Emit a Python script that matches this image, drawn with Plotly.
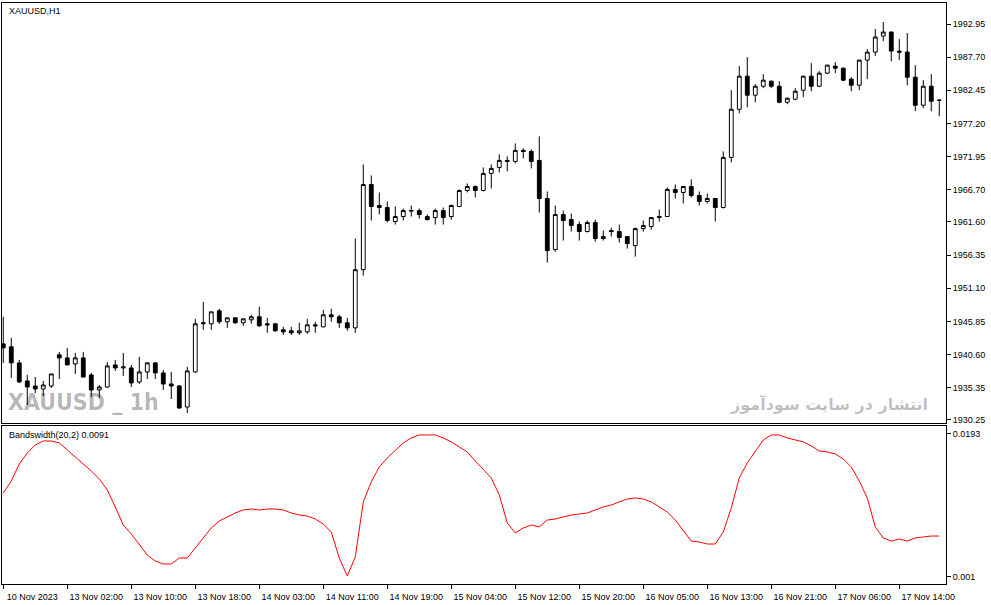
import plotly.graph_objects as go

# XAUUSD H1 candles (118 bars)
opens = [1942.29, 1941.82, 1939.28, 1936.42, 1935.62, 1935.15, 1935.62, 1940.55, 1940.07, 1939.12,
         1940.07, 1937.37, 1934.99, 1935.46, 1938.96, 1938.48, 1938.48, 1936.26, 1937.85, 1939.28,
         1937.69, 1935.94, 1935.62, 1932.29, 1937.85, 1945.47, 1945.47, 1947.53, 1945.79, 1946.42,
         1945.63, 1946.10, 1946.58, 1945.47, 1945.47, 1944.52, 1944.36, 1944.04, 1944.20, 1945.31,
         1944.99, 1946.90, 1946.58, 1945.63, 1944.83, 1954.04, 1967.54, 1964.21, 1963.89, 1961.67,
         1962.46, 1963.41, 1963.41, 1962.46, 1962.30, 1963.41, 1962.46, 1964.05, 1966.59, 1967.22,
         1966.59, 1969.29, 1970.24, 1971.35, 1971.19, 1972.94, 1972.78, 1971.35, 1965.32, 1957.22,
         1962.78, 1961.98, 1961.19, 1960.08, 1961.51, 1959.28, 1960.24, 1960.08, 1959.28, 1957.86,
         1960.55, 1960.87, 1962.30, 1962.46, 1966.75, 1966.27, 1967.22, 1965.80, 1964.84, 1965.32,
         1963.89, 1971.83, 1979.45, 1984.69, 1981.68, 1983.10, 1983.90, 1983.10, 1980.56, 1981.04,
         1982.47, 1984.69, 1983.10, 1985.17, 1986.28, 1985.96, 1984.22, 1983.26, 1987.23, 1988.50,
         1991.05, 1991.68, 1988.66, 1988.50, 1984.53, 1980.09, 1983.10, 1980.88]
highs = [1946.58, 1943.25, 1939.75, 1937.37, 1937.05, 1936.42, 1937.53, 1941.02, 1941.66, 1940.86,
         1941.02, 1937.69, 1935.78, 1939.43, 1939.75, 1940.86, 1938.96, 1940.23, 1939.43, 1939.43,
         1938.16, 1937.85, 1935.78, 1938.64, 1946.26, 1948.96, 1947.37, 1947.85, 1946.42, 1946.50,
         1946.26, 1946.90, 1948.17, 1946.42, 1945.63, 1944.99, 1944.99, 1945.63, 1946.26, 1945.79,
         1947.69, 1947.85, 1946.90, 1946.42, 1958.97, 1970.72, 1968.97, 1966.27, 1964.84, 1964.05,
         1963.73, 1964.21, 1963.73, 1962.78, 1963.73, 1963.89, 1964.37, 1966.75, 1967.70, 1967.38,
         1970.24, 1970.72, 1972.31, 1971.99, 1974.05, 1973.26, 1973.10, 1975.16, 1966.43, 1964.21,
         1963.41, 1962.94, 1961.67, 1961.83, 1961.98, 1960.24, 1960.72, 1961.19, 1959.28, 1960.72,
         1961.83, 1962.30, 1963.57, 1967.07, 1967.54, 1967.22, 1968.34, 1966.43, 1966.11, 1965.40,
         1972.78, 1982.47, 1986.28, 1987.71, 1983.42, 1985.01, 1983.98, 1983.90, 1981.30, 1982.79,
         1984.75, 1986.76, 1985.49, 1986.50, 1986.92, 1986.04, 1984.53, 1987.30, 1988.98, 1992.16,
         1993.27, 1991.76, 1990.57, 1991.52, 1986.44, 1984.06, 1985.01, 1980.95]
lows = [1939.28, 1936.89, 1936.10, 1932.61, 1934.51, 1934.04, 1935.31, 1936.73, 1938.96, 1937.53,
        1936.90, 1933.88, 1933.72, 1935.31, 1938.01, 1937.21, 1935.46, 1935.94, 1936.73, 1936.73,
        1934.99, 1933.56, 1932.05, 1931.34, 1937.69, 1944.52, 1944.52, 1945.47, 1944.83, 1945.47,
        1945.15, 1945.47, 1944.99, 1944.04, 1944.20, 1943.72, 1943.72, 1943.72, 1943.88, 1944.04,
        1944.90, 1945.79, 1944.83, 1944.36, 1944.04, 1953.09, 1961.83, 1962.78, 1961.51, 1961.19,
        1961.83, 1962.46, 1962.14, 1961.83, 1961.19, 1961.19, 1961.98, 1963.95, 1966.27, 1965.48,
        1966.43, 1966.91, 1969.45, 1969.61, 1970.88, 1971.67, 1970.08, 1963.10, 1955.16, 1956.90,
        1958.65, 1960.08, 1958.65, 1959.95, 1958.49, 1958.65, 1959.28, 1958.33, 1957.38, 1956.11,
        1960.08, 1960.40, 1961.67, 1962.40, 1965.32, 1964.52, 1965.48, 1964.21, 1964.52, 1961.67,
        1963.73, 1971.04, 1978.82, 1979.77, 1980.56, 1982.79, 1982.79, 1980.40, 1980.25, 1980.88,
        1981.36, 1982.31, 1982.95, 1985.01, 1985.17, 1983.90, 1982.31, 1982.47, 1984.22, 1987.87,
        1990.25, 1987.07, 1987.23, 1983.26, 1979.13, 1979.61, 1979.13, 1978.34]
closes = [1941.66, 1939.28, 1936.26, 1935.46, 1935.15, 1935.78, 1937.53, 1940.07, 1938.96, 1940.07,
          1937.05, 1934.99, 1935.46, 1938.80, 1938.48, 1938.64, 1936.10, 1937.85, 1939.28, 1937.69,
          1935.94, 1935.62, 1932.13, 1938.01, 1945.47, 1945.63, 1947.37, 1945.79, 1946.42, 1945.63,
          1946.26, 1946.58, 1945.15, 1945.31, 1944.36, 1944.20, 1944.04, 1944.36, 1945.31, 1945.15,
          1946.90, 1946.58, 1945.63, 1944.83, 1954.04, 1967.54, 1964.05, 1963.89, 1961.83, 1962.46,
          1963.41, 1963.35, 1962.78, 1961.98, 1963.41, 1962.30, 1964.21, 1966.59, 1967.22, 1966.59,
          1969.29, 1970.08, 1971.35, 1971.19, 1972.94, 1972.78, 1971.19, 1965.32, 1957.06, 1962.78,
          1961.83, 1961.03, 1960.08, 1961.51, 1958.97, 1958.97, 1960.08, 1959.13, 1958.17, 1960.55,
          1961.03, 1962.30, 1962.46, 1966.75, 1966.27, 1967.22, 1965.80, 1964.84, 1965.32, 1963.89,
          1971.83, 1979.45, 1984.69, 1981.68, 1983.10, 1984.06, 1983.10, 1980.56, 1981.20, 1982.31,
          1984.69, 1983.10, 1985.17, 1986.44, 1985.96, 1984.06, 1983.26, 1987.23, 1988.50, 1990.89,
          1991.68, 1988.66, 1988.50, 1984.53, 1980.09, 1983.10, 1980.72, 1980.88]

# Bandswidth(20,2) indicator, one value per bar
bandwidth = [0.01175, 0.01328, 0.01546, 0.01687, 0.01789, 0.0184, 0.0184, 0.01815, 0.01725, 0.01636,
             0.01546, 0.01456, 0.01354, 0.01213, 0.00996, 0.00765, 0.0065, 0.00509, 0.00381, 0.00304,
             0.00266, 0.00266, 0.00343, 0.00343, 0.00471, 0.00586, 0.00727, 0.00816, 0.00868, 0.00919,
             0.00957, 0.0097, 0.00957, 0.0097, 0.0097, 0.00957, 0.00919, 0.00893, 0.0088, 0.00842,
             0.00778, 0.00676, 0.00343, 0.00112, 0.00356, 0.0106, 0.01316, 0.01508, 0.01623, 0.01725,
             0.01815, 0.01879, 0.01917, 0.01917, 0.01917, 0.01879, 0.01828, 0.01764, 0.017, 0.01584,
             0.01469, 0.01367, 0.01149, 0.00791, 0.00663, 0.00727, 0.00765, 0.0074, 0.00829, 0.00842,
             0.00868, 0.00893, 0.00906, 0.00919, 0.00957, 0.00996, 0.01021, 0.0106, 0.01098, 0.01111,
             0.01098, 0.0106, 0.00996, 0.00932, 0.00829, 0.00701, 0.0056, 0.00548, 0.00522, 0.00522,
             0.00676, 0.00983, 0.01367, 0.01559, 0.017, 0.01853, 0.01917, 0.01917, 0.01879, 0.01853,
             0.01828, 0.01776, 0.01712, 0.017, 0.01674, 0.0161, 0.01508, 0.01328, 0.01111, 0.0074,
             0.00599, 0.0056, 0.00586, 0.0056, 0.00599, 0.00612, 0.00624, 0.00624]

# time axis labels, one every 8 bars
time_labels = ['10 Nov 2023', '13 Nov 02:00', '13 Nov 10:00', '13 Nov 18:00', '14 Nov 03:00',
               '14 Nov 11:00', '14 Nov 19:00', '15 Nov 04:00', '15 Nov 12:00', '15 Nov 20:00',
               '16 Nov 05:00', '16 Nov 13:00', '16 Nov 21:00', '17 Nov 06:00', '17 Nov 14:00']
price_ticks = [1992.95, 1987.70, 1982.45, 1977.20, 1971.95, 1966.70, 1961.60,
               1956.35, 1951.10, 1945.85, 1940.60, 1935.35, 1930.25]
bw_ticks = [0.0193, 0.001]

bars = list(range(len(opens)))
label_pos = bars[::8]

fig = go.Figure()

fig.add_trace(go.Candlestick(
    x=bars, open=opens, high=highs, low=lows, close=closes,
    increasing=dict(line=dict(color='black', width=1), fillcolor='white'),
    decreasing=dict(line=dict(color='black', width=1), fillcolor='black'),
    whiskerwidth=0, xaxis='x', yaxis='y', showlegend=False))

fig.add_trace(go.Scatter(
    x=bars, y=bandwidth, mode='lines', line=dict(color='#ff0000', width=1),
    xaxis='x2', yaxis='y2', showlegend=False))

font = dict(family='Liberation Sans, Arial, sans-serif', size=9, color='black')
xrange = [-0.16, 117.84]

fig.update_layout(
    width=991, height=605,
    margin=dict(l=2, r=45, t=3, b=21),
    paper_bgcolor='white', plot_bgcolor='white',
    font=font, boxgap=0.32, hovermode=False,
    xaxis=dict(domain=[0, 1], anchor='y', range=xrange, showticklabels=False,
               ticks='', showgrid=False, zeroline=False,
               showline=True, mirror=True, linecolor='black', linewidth=1,
               rangeslider=dict(visible=False)),
    yaxis=dict(domain=[0.277, 1], anchor='x', side='right', range=[1929.75, 1996.28],
               tickvals=price_ticks, tickformat='.2f', ticks='outside', ticklen=4,
               tickcolor='black', showgrid=False, zeroline=False,
               showline=True, mirror=True, linecolor='black', linewidth=1),
    xaxis2=dict(domain=[0, 1], anchor='y2', range=xrange,
                tickvals=label_pos, ticktext=time_labels, ticks='outside', ticklen=4,
                tickcolor='black', ticklabelshift=29, ticklabeloverflow='allow',
                showgrid=False, zeroline=False,
                showline=True, mirror=True, linecolor='black', linewidth=1),
    yaxis2=dict(domain=[0, 0.272], anchor='x2', side='right', range=[0.000104, 0.02032],
                tickvals=bw_ticks, ticktext=['0.0193', '0.001'], ticks='outside', ticklen=4,
                tickcolor='black', showgrid=False, zeroline=False,
                showline=True, mirror=True, linecolor='black', linewidth=1),
)

# chart captions and watermarks
fig.add_annotation(text='XAUUSD,H1', xref='paper', yref='paper', x=0.005, y=0.986,
                   xanchor='left', yanchor='middle', showarrow=False, font=font)
fig.add_annotation(text='Bandswidth(20,2) 0.0091', xref='paper', yref='paper', x=0.005, y=0.2565,
                   xanchor='left', yanchor='middle', showarrow=False, font=font)
fig.add_annotation(text='<b>XAUUSD _ 1h</b>', xref='paper', yref='paper', x=0.004, y=0.313,
                   xanchor='left', yanchor='middle', showarrow=False,
                   font=dict(family='DejaVu Sans Condensed, Liberation Sans Narrow, sans-serif',
                             size=23, color='rgba(0,0,0,0.28)'))
fig.add_annotation(text='<b>انتشار در سایت سودآموز</b>', xref='paper', yref='paper', x=0.983, y=0.31,
                   xanchor='right', yanchor='middle', showarrow=False,
                   font=dict(family='DejaVu Sans, sans-serif', size=16, color='rgba(0,0,0,0.25)'))

# drop the default page margin so the chart sits at the window corner
fig.write_html("out.html", config={'displayModeBar': False},
               post_script="document.body.style.margin = '0';")
